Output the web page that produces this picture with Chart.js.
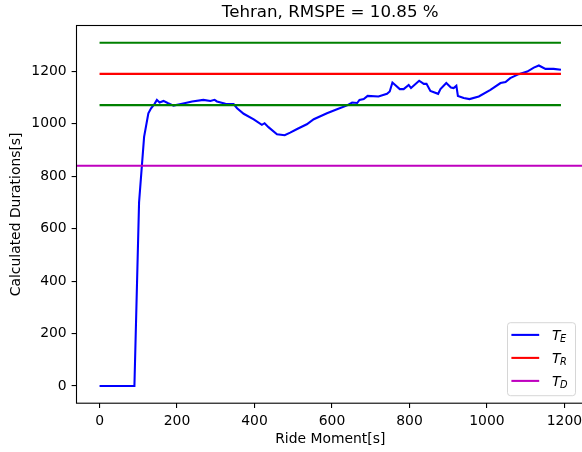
<!DOCTYPE html>
<html><head><meta charset="utf-8">
<script src="https://cdn.jsdelivr.net/npm/chart.js@4.4.1/dist/chart.umd.min.js"></script>
<style>html,body{margin:0;padding:0;overflow:hidden;background:#fff;width:582px;height:452px}canvas{display:block}</style>
</head><body>
<canvas id="c" width="660" height="452" style="width:660px;height:452px"></canvas>
<script>
// ---- data ----
const rideMoment = [0,90,102,115,126,133,142,148,155,165,177,191,213,239,268,286,297,303,325,346,355,372,398,419,426,436,458,478,492,510,535,553,587,613,639,652,665,671,682,692,720,742,749,756,775,785,798,804,825,837,844,854,874,880,895,907,914,921,925,940,955,979,1009,1035,1048,1060,1082,1104,1121,1134,1151,1172,1191];
const durationTE = [0,0,700,950,1040,1059,1076,1091,1081,1087,1078,1069,1076,1085,1091,1087,1091,1085,1076,1075,1059,1038,1017,996,1002,987,960,956,966,980,998,1017,1040,1055,1070,1081,1079,1091,1094,1106,1104,1114,1123,1157,1132,1132,1148,1136,1164,1152,1152,1125,1114,1132,1155,1138,1136,1145,1106,1098,1094,1104,1129,1155,1159,1174,1189,1199,1214,1222,1209,1209,1206];
const valueTR = 1190;
const valueTD = 840;
const bandLevels = [1309, 1071];       // TR +/- 10 %
const bandSpan = [0, 1191];
const xLimits = [-59.5, 1250.5];
const yLimits = [-65.5, 1374.5];
const xTicks = [0,200,400,600,800,1000,1200];
const yTicks = [0,200,400,600,800,1000,1200];
const titleText = 'Tehran, RMSPE = 10.85 %';
const legendItems = [{sub:'E', color:'#0000ff'},{sub:'R', color:'#ff0000'},{sub:'D', color:'#bf00bf'}];

const FONT = '"DejaVu Sans", sans-serif';
const LW = 2.08;

const spines = {
  id:'spines',
  afterDatasetsDraw(chart){
    const {ctx, chartArea:a} = chart;
    ctx.save();
    ctx.strokeStyle='#000'; ctx.lineWidth=1.1;
    ctx.strokeRect(a.left, a.top, a.right-a.left, a.bottom-a.top);
    ctx.restore();
  }
};

const mathLegend = {
  id:'mathLegend',
  afterDraw(chart){
    const {ctx, chartArea:a} = chart;
    const w = 68, h = 73;
    const x = a.right - 9 - w, y = a.bottom - 8 - h;
    ctx.save();
    ctx.beginPath();
    ctx.roundRect(x+0.5, y+0.5, w, h, 3);
    ctx.globalAlpha = 0.8;
    ctx.fillStyle = '#fff'; ctx.fill();
    ctx.strokeStyle = '#cccccc'; ctx.lineWidth = 1; ctx.stroke();
    ctx.globalAlpha = 1;
    legendItems.forEach((it,i)=>{
      const cy = y + 12.7 + i*23;
      ctx.beginPath();
      ctx.moveTo(x+4.4, cy); ctx.lineTo(x+32.2, cy);
      ctx.strokeStyle = it.color; ctx.lineWidth = LW; ctx.stroke();
      ctx.fillStyle = '#000';
      ctx.textBaseline = 'alphabetic';
      ctx.font = 'italic 13.9px ' + FONT;
      ctx.fillText('T', x+45, cy+4.8);
      const tw = ctx.measureText('T').width;
      ctx.font = 'italic 9.8px ' + FONT;
      ctx.fillText(it.sub, x+45+tw-0.5, cy+7.4);
    });
    ctx.restore();
  }
};

const pts = (xs, ys) => xs.map((v,i)=>({x:v, y:ys[i]}));
const hline = (x0, x1, v) => [{x:x0, y:v},{x:x1, y:v}];
const lineDs = (data, color) => ({data, borderColor:color, borderWidth:LW, pointRadius:0, fill:false, tension:0});

const datasets = [
  lineDs(hline(bandSpan[0], bandSpan[1], bandLevels[1]), '#008000'),
  lineDs(hline(bandSpan[0], bandSpan[1], bandLevels[0]), '#008000'),
  lineDs(hline(xLimits[0], xLimits[1], valueTD), '#bf00bf'),
  lineDs(hline(bandSpan[0], bandSpan[1], valueTR), '#ff0000'),
  lineDs(pts(rideMoment, durationTE), '#0000ff'),
];

const tickFont = {family:FONT, size:13.9};
const plain = v => String(v);
new Chart(document.getElementById('c'), {
  type:'line',
  data:{datasets},
  plugins:[spines, mathLegend],
  options:{
    responsive:false, animation:false, devicePixelRatio:1,
    layout:{padding:{left:0, right:76, top:0, bottom:0}},
    plugins:{
      legend:{display:false}, tooltip:{enabled:false},
      title:{display:true, fullSize:false, text:titleText, color:'#000', font:{family:FONT, size:16.67, weight:'normal'}, padding:{top:3, bottom:2.5}}
    },
    scales:{
      x:{type:'linear', min:xLimits[0], max:xLimits[1],
        afterBuildTicks(s){ s.ticks = xTicks.map(v=>({value:v})); },
        afterFit(s){ s.height = 48.8; },
        border:{display:false},
        grid:{drawOnChartArea:false, drawTicks:true, tickLength:4.9, color:'#000', lineWidth:1.1},
        ticks:{color:'#000', font:tickFont, padding:5, maxRotation:0, autoSkip:false, callback:plain},
        title:{display:true, text:'Ride Moment[s]', color:'#000', font:tickFont, padding:{top:0, bottom:4.5}}
      },
      y:{type:'linear', min:yLimits[0], max:yLimits[1],
        afterBuildTicks(s){ s.ticks = yTicks.map(v=>({value:v})); },
        afterFit(s){ s.width = 76.5; },
        border:{display:false},
        grid:{drawOnChartArea:false, drawTicks:true, tickLength:4.9, color:'#000', lineWidth:1.1},
        ticks:{color:'#000', font:tickFont, padding:4.9, autoSkip:false, callback:plain},
        title:{display:true, text:'Calculated Durations[s]', color:'#000', font:tickFont, padding:{top:8.4, bottom:0}}
      }
    }
  }
});
</script></body></html>
